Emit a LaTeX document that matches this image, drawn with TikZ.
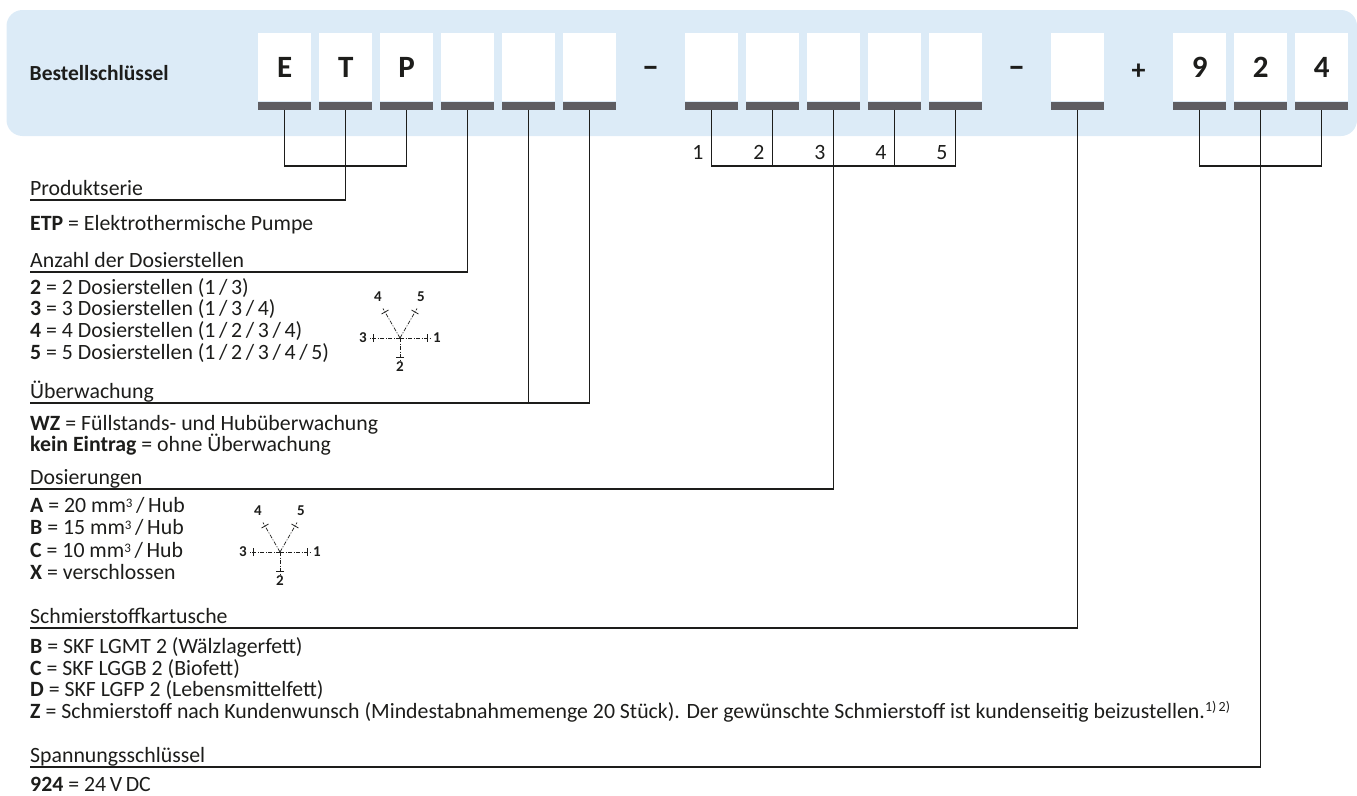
\documentclass[tikz,border=0pt]{standalone}
\usepackage{fontspec}
\setmainfont{Carlito}
\definecolor{bandblue}{RGB}{220,235,247}
\definecolor{bargrey}{RGB}{94,93,98}
\definecolor{ink}{RGB}{29,29,27}
\begin{document}
\begin{tikzpicture}[x=1pt,y=-1pt,
  keybox/.style={fill=white, minimum width=53pt, minimum height=68pt, inner sep=0pt, anchor=north west, text=ink, font=\fontsize{31}{31}\selectfont\bfseries},
  keybar/.style={fill=bargrey, minimum width=53pt, minimum height=8pt, inner sep=0pt, anchor=north},
  sepsym/.style={inner sep=0pt, text=ink, font=\fontsize{34}{34}\selectfont\bfseries},
  conn/.style={line width=1.1pt, draw=ink},
  txt/.style={anchor=base west, inner sep=0pt, text=ink, font=\fontsize{21.8}{21.8}\selectfont},
  numlbl/.style={anchor=base east, inner sep=0pt, text=ink, font=\fontsize{21.8}{21.8}\selectfont},
  pinline/.style={line width=0.7pt, draw=ink, dash pattern=on 4pt off 1.5pt on 1pt off 1.5pt},
  pintick/.style={line width=0.8pt, draw=ink},
  pinlbl/.style={inner sep=0pt, text=ink, font=\fontsize{15}{15}\selectfont\bfseries}
]
\useasboundingbox (0,0) rectangle (1357,795);
\fill[bandblue, rounded corners=16pt] (6.5,10) rectangle (1357,136);

\node[anchor=west, inner sep=0pt, text=ink, font=\fontsize{21.5}{21.5}\selectfont\bfseries] (title) at (29.5,73) {Bestellschlüssel};

\foreach \i/\t/\n in {0/E/k1, 1/T/k2, 2/P/k3, 3//k4, 4//k5, 5//k6, 7//m1, 8//m2, 9//m3, 10//m4, 11//m5, 13//c1, 15/9/v1, 16/2/v2, 17/4/v3} {
  \node[keybox] (\n) at ({258+61*\i},33) {\t};
  \node[keybar] (\n b) at (\n.south) {};
}
\node[sepsym] (d1) at (650.5,72) {–};
\node[sepsym] (d2) at (1016.5,72) {–};
\node[sepsym, font=\fontsize{28}{28}\selectfont\bfseries] (pl) at (1138.5,72) {+};

\coordinate (yb) at (0,166);
% ETP
\draw[conn] (k1b.south) |- (k3b.south |- yb) -- (k3b.south);
\coordinate (uProd) at (30,200);
\draw[conn] (uProd) -| (k2b.south);
% Anzahl
\coordinate (uAnz) at (30,272);
\draw[conn] (uAnz) -| (k4b.south);
% Ueberwachung
\coordinate (uUeb) at (30,403);
\draw[conn] (uUeb) -| (k6b.south);
\draw[conn] (k5b.south) -- (k5b.south |- uUeb);
% Dosierungen
\draw[conn] (m1b.south) |- (m5b.south |- yb) -- (m5b.south);
\draw[conn] (m2b.south) -- (m2b.south |- yb);
\draw[conn] (m4b.south) -- (m4b.south |- yb);
\coordinate (uDos) at (30,489);
\draw[conn] (uDos) -| (m3b.south);
\coordinate (ylbl) at (0,159);
\node[numlbl] (n1) at ([xshift=-8pt]m1b.south |- ylbl) {1};
\node[numlbl] (n2) at ([xshift=-8pt]m2b.south |- ylbl) {2};
\node[numlbl] (n3) at ([xshift=-8pt]m3b.south |- ylbl) {3};
\node[numlbl] (n4) at ([xshift=-8pt]m4b.south |- ylbl) {4};
\node[numlbl] (n5) at ([xshift=-8pt]m5b.south |- ylbl) {5};
% Schmierstoff
\coordinate (uSch) at (30,628);
\draw[conn] (uSch) -| (c1b.south);
% Spannung
\draw[conn] (v1b.south) |- (v3b.south |- yb) -- (v3b.south);
\coordinate (uSpa) at (30,767);
\draw[conn] (uSpa) -| (v2b.south);

% texts
\node[txt] (hProd) at (30,195.5) {Produktserie};
\node[txt] (tETP) at (30,230) {\textbf{ETP} = Elektrothermische Pumpe};
\node[txt] (hAnz) at (30,267.5) {Anzahl der Dosierstellen};
\node[txt] (tA2) at (30,294) {\textbf{2} = 2 Dosierstellen (1\,/\,3)};
\node[txt] (tA3) at (30,315.7) {\textbf{3} = 3 Dosierstellen (1\,/\,3\,/\,4)};
\node[txt] (tA4) at (30,337.4) {\textbf{4} = 4 Dosierstellen (1\,/\,2\,/\,3\,/\,4)};
\node[txt] (tA5) at (30,359) {\textbf{5} = 5 Dosierstellen (1\,/\,2\,/\,3\,/\,4\,/\,5)};
\node[txt] (hUeb) at (30,398.5) {Überwachung};
\node[txt] (tWZ) at (30,430) {\textbf{WZ} = Füllstands- und Hubüberwachung};
\node[txt] (tKE) at (30,451.5) {\textbf{kein Eintrag} = ohne Überwachung};
\node[txt] (hDos) at (30,484.5) {Dosierungen};
\node[txt] (tDA) at (30,512) {\textbf{A} = 20 mm{\fontsize{13}{13}\selectfont\raisebox{5pt}{3}}\,/\,Hub};
\node[txt] (tDB) at (30,534.5) {\textbf{B} = 15 mm{\fontsize{13}{13}\selectfont\raisebox{5pt}{3}}\,/\,Hub};
\node[txt] (tDC) at (30,557) {\textbf{C} = 10 mm{\fontsize{13}{13}\selectfont\raisebox{5pt}{3}}\,/\,Hub};
\node[txt] (tDX) at (30,579.5) {\textbf{X} = verschlossen};
\node[txt] (hSch) at (30,623.5) {Schmierstoffkartusche};
\node[txt] (tSB) at (30,653.5) {\textbf{B} = SKF LGMT 2 (Wälzlagerfett)};
\node[txt] (tSC) at (30,675) {\textbf{C} = SKF LGGB 2 (Biofett)};
\node[txt] (tSD) at (30,696.5) {\textbf{D} = SKF LGFP 2 (Lebensmittelfett)};
\node[txt] (tSZ) at (30,718) {\textbf{Z} = Schmierstoff nach Kundenwunsch (Mindestabnahmemenge 20 Stück). Der gewünschte Schmierstoff ist kundenseitig beizustellen.{\fontsize{14}{14}\selectfont\raisebox{7pt}{1)\,2)}}};
\node[txt] (hSpa) at (30,762.5) {Spannungsschlüssel};
\node[txt] (tV) at (30,791) {\textbf{924} = 24\,V\,DC};

% pin diagrams
\foreach \cx/\cy/\p in {400/338/pa, 280/552/pb} {
  \begin{scope}[shift={(\cx,\cy)}]
    \foreach \a/\r in {0/27, 180/27, 270/19, 120/30, 60/30} {
      \draw[pinline, rotate=\a] (0,0) -- (\r+4,0);
      \draw[pintick, rotate=\a] (\r,-4) -- (\r,4);
    }
    \node[pinlbl] (\p1) at (37,0) {1};
    \node[pinlbl] (\p2) at (0,29) {2};
    \node[pinlbl] (\p3) at (-37,0) {3};
    \node[pinlbl] (\p4) at (-22,-41) {4};
    \node[pinlbl] (\p5) at (21,-41) {5};
  \end{scope}
}
\end{tikzpicture}
\end{document}
